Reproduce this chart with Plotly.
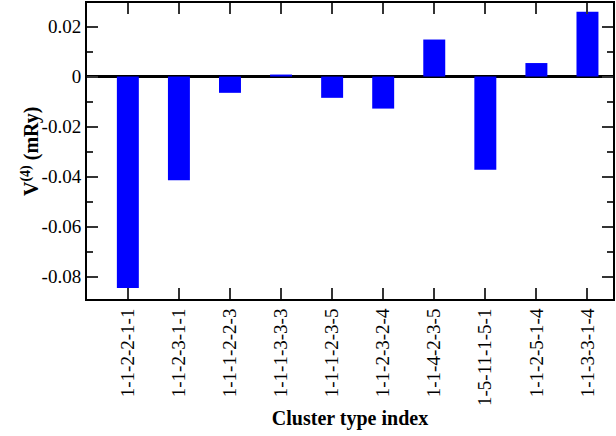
import plotly.graph_objects as go

# Cluster labels and fourth-order interaction values V(4) in mRy
clusters = ["1-1-2-2-1-1", "1-1-2-3-1-1", "1-1-1-2-2-3", "1-1-1-3-3-3", "1-1-1-2-3-5",
            "1-1-2-3-2-4", "1-1-4-2-3-5", "1-5-11-1-5-1", "1-1-2-5-1-4", "1-1-3-3-1-4"]
v4_values = [-0.0845, -0.0414, -0.0065, 0.0008, -0.0085,
             -0.0128, 0.0148, -0.0372, 0.0054, 0.0259]
positions = list(range(1, len(clusters) + 1))
y_ticks = [-0.08, -0.06, -0.04, -0.02, 0, 0.02]
y_tick_text = ["-0.08", "-0.06", "-0.04", "-0.02", "0", "0.02"]

serif = "Liberation Serif"

fig = go.Figure(
    go.Bar(
        x=positions,
        y=v4_values,
        width=0.43,
        marker=dict(color="#0000FF", line=dict(width=0)),
    )
)

fig.update_layout(
    width=616,
    height=436,
    margin=dict(l=87, r=1, t=1, b=137),
    paper_bgcolor="white",
    plot_bgcolor="white",
    showlegend=False,
    font=dict(family=serif, size=19, color="black"),
)

fig.update_xaxes(
    range=[0.2, 10.5],
    tickvals=positions,
    ticktext=clusters,
    tickangle=-90,
    ticks="inside",
    ticklen=11,
    tickwidth=1.5,
    tickcolor="#333333",
    showline=True,
    linecolor="black",
    linewidth=2,
    mirror="ticks",
    showgrid=False,
    zeroline=False,
    tickfont=dict(family=serif, size=19, color="black"),
    title=dict(text="<b>Cluster type index</b>", font=dict(family=serif, size=20, color="black"), standoff=6),
)

fig.update_yaxes(
    range=[-0.0889, 0.0294],
    tickvals=y_ticks,
    ticktext=y_tick_text,
    ticks="inside",
    ticklen=11,
    tickwidth=1.5,
    tickcolor="#333333",
    minor=dict(dtick=0.01, ticks="inside", ticklen=6, tickwidth=1.5, tickcolor="#333333", showgrid=False),
    showline=True,
    linecolor="black",
    linewidth=2,
    mirror="ticks",
    showgrid=False,
    zeroline=True,
    zerolinecolor="black",
    zerolinewidth=2.5,
    tickfont=dict(family=serif, size=19, color="black"),
)

# Vertical y-axis title placed beside the tick labels
fig.add_annotation(
    text="<b>V<sup>(4)</sup> (mRy)</b>",
    xref="paper", yref="paper",
    x=0, y=0.5,
    xanchor="center", yanchor="middle",
    xshift=-57,
    textangle=-90,
    showarrow=False,
    font=dict(family=serif, size=20, color="black"),
)

fig.write_html("out.html")
